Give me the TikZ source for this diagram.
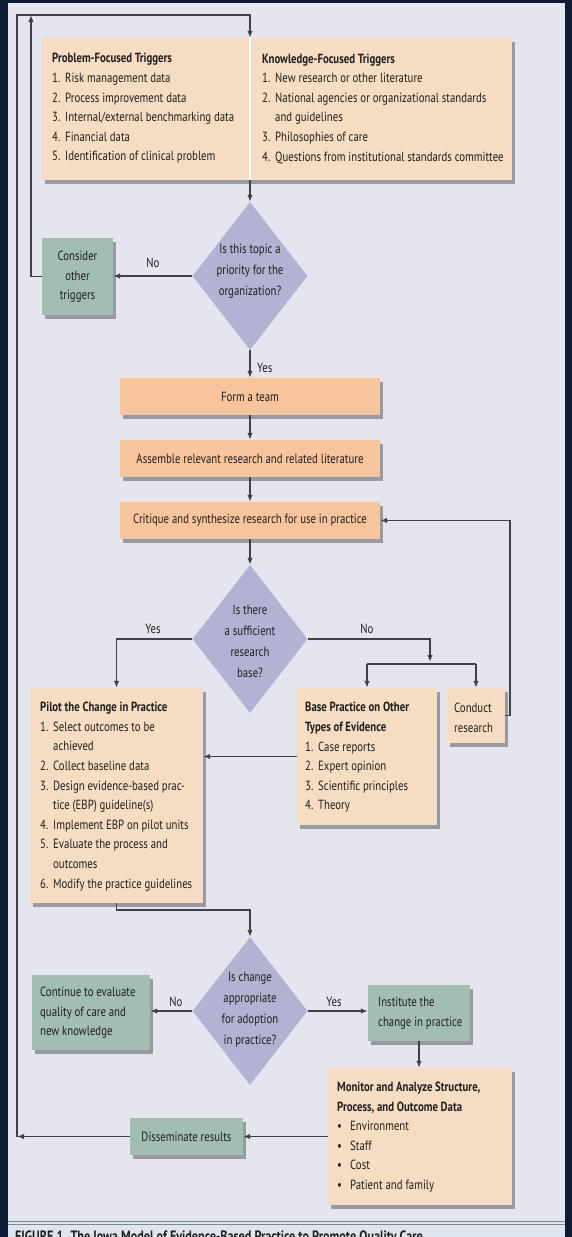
\documentclass[tikz,border=0pt]{standalone}
\usepackage{fontspec}
\setmainfont{PT Sans}[FakeStretch=0.81]
\usetikzlibrary{shapes.geometric,shadows,arrows.meta,calc}
\definecolor{navy}{HTML}{0C1C36}
\definecolor{panel}{HTML}{E5E5EF}
\definecolor{capbg}{HTML}{DFE5EE}
\definecolor{capsep}{HTML}{6E8F8C}
\definecolor{peachL}{HTML}{F6DCC2}
\definecolor{orangeB}{HTML}{F7C49C}
\definecolor{tealB}{HTML}{A2BDB2}
\definecolor{diaC}{HTML}{B2B2D2}
\definecolor{lineC}{HTML}{40404A}
\definecolor{txt}{HTML}{1F1F1F}
\newcommand\myitem[1]{\makebox[13pt][l]{#1}}
\newcommand\mycont{\hspace*{13pt}}
\begin{document}
\begin{tikzpicture}[x=1pt,y=-1pt,
  shad/.style={drop shadow={shadow xshift=2.5pt,shadow yshift=-3.5pt,fill=black,opacity=0.33}},
  boxbase/.style={rectangle,draw=none,inner sep=0pt,shad},
  pbox/.style={boxbase,fill=peachL},
  obox/.style={boxbase,fill=orangeB},
  tbox/.style={boxbase,fill=tealB},
  dia/.style={diamond,draw=none,fill=diaC,inner sep=0pt,minimum width=115pt,minimum height=148pt},
  txtl/.style={inner sep=0pt,align=left,text=txt,font=\fontsize{13.3}{19.6}\selectfont},
  txtc/.style={inner sep=0pt,align=center,text=txt,font=\fontsize{13.3}{19.6}\selectfont},
  dtxt/.style={inner sep=0pt,align=center,text=txt,font=\fontsize{13.3}{21}\selectfont},
  lbl/.style={inner sep=0pt,text=txt,font=\fontsize{13.3}{16}\selectfont},
  ln/.style={draw=lineC,line width=1.4pt},
  arr/.style={ln,-{Latex[length=7pt,width=5.5pt]}}
]
\useasboundingbox (0,0) rectangle (572,1237);
\fill[navy] (0,0) rectangle (572,1237);
\fill[panel] (8,3) rectangle (565,1237);
\fill[capbg] (8,1224) rectangle (565,1237);
\draw[capsep,line width=1pt] (8,1221) -- (565,1221);
\draw[capsep,line width=1pt] (8,1224) -- (565,1224);

% coordinates
\coordinate (lb) at (17,1136.5);
\coordinate (lt) at (17,15);
\coordinate (tp) at (250,15);
\coordinate (ct) at (31,15);
\coordinate (nb) at (430,664);
\coordinate (cr) at (510,600);
\coordinate (pj) at (250,910);

% triggers
\node[pbox,minimum width=470pt,minimum height=142pt] (trig) at (277,109) {};
\draw[white,line width=2pt] (tp |- trig.north) -- (tp |- trig.south);
\node[txtl,anchor=west] (ptrig) at (52,108.5) {\textbf{Problem-Focused Triggers}\\
\myitem{1.}Risk management data\\
\myitem{2.}Process improvement data\\
\myitem{3.}Internal/external benchmarking data\\
\myitem{4.}Financial data\\
\myitem{5.}Identification of clinical problem};
\node[txtl,anchor=west] (ktrig) at (262,108.5) {\textbf{Knowledge-Focused Triggers}\\
\myitem{1.}New research or other literature\\
\myitem{2.}National agencies or organizational standards\\
\mycont and guidelines\\
\myitem{3.}Philosophies of care\\
\myitem{4.}Questions from institutional standards committee};

% decision 1
\node[dia] (d1) at (250,276) {};
\node[dtxt] (d1t) at (250,271) {Is this topic a\\priority for the\\organization?};
\node[tbox,minimum width=71pt,minimum height=77pt] (cons) at (77.5,276.5) {};
\node[txtc] (const) at (77.5,277) {Consider\\other\\triggers};

% orange steps
\node[obox,minimum width=260pt,minimum height=37pt] (form) at (250,396.5) {};
\node[txtc] (formt) at (250,396.5) {Form a team};
\node[obox,minimum width=260pt,minimum height=37pt] (asm) at (250,458.5) {};
\node[txtc] (asmt) at (250,458.5) {Assemble relevant research and related literature};
\node[obox,minimum width=260pt,minimum height=37pt] (crit) at (250,520.5) {};
\node[txtc] (critt) at (250,520.5) {Critique and synthesize research for use in practice};

% decision 2
\node[dia] (d2) at (250,639) {};
\node[dtxt] (d2t) at (250,641) {Is there\\a sufficient\\research\\base?};

\node[pbox,minimum width=173pt,minimum height=215pt] (pilot) at (116.5,795.5) {};
\node[txtl,anchor=west] (pilott) at (40,796.5) {\textbf{Pilot the Change in Practice}\\
\myitem{1.}Select outcomes to be\\
\mycont achieved\\
\myitem{2.}Collect baseline data\\
\myitem{3.}Design evidence-based prac-\\
\mycont tice (EBP) guideline(s)\\
\myitem{4.}Implement EBP on pilot units\\
\myitem{5.}Evaluate the process and\\
\mycont outcomes\\
\myitem{6.}Modify the practice guidelines};

\node[pbox,minimum width=140pt,minimum height=137pt] (base) at (367,756.5) {};
\node[txtl,anchor=west] (baset) at (305,757.5) {\textbf{Base Practice on Other}\\
\textbf{Types of Evidence}\\
\myitem{1.}Case reports\\
\myitem{2.}Expert opinion\\
\myitem{3.}Scientific principles\\
\myitem{4.}Theory};

\node[pbox,minimum width=58pt,minimum height=55pt] (cond) at (476,715.5) {};
\node[txtl,anchor=west] (condt) at (454,718) {Conduct\\research};

% decision 3
\node[dia] (d3) at (250,1011) {};
\node[dtxt] (d3t) at (250,1010) {Is change\\appropriate\\for adoption\\in practice?};

\node[tbox,minimum width=118pt,minimum height=75pt] (cont) at (91,1012.5) {};
\node[txtl,anchor=west] (contt) at (40,1013) {Continue to evaluate\\quality of care and\\new knowledge};

\node[tbox,minimum width=102pt,minimum height=56pt] (inst) at (419,1013) {};
\node[txtl,anchor=west] (instt) at (378,1013) {Institute the\\change in practice};

\node[pbox,minimum width=184pt,minimum height=137pt] (mon) at (420,1136.5) {};
\node[txtl,anchor=west] (mont) at (337,1137) {\textbf{Monitor and Analyze Structure,}\\
\textbf{Process, and Outcome Data}\\
\myitem{•}Environment\\
\myitem{•}Staff\\
\myitem{•}Cost\\
\myitem{•}Patient and family};

\node[tbox,minimum width=113pt,minimum height=37pt] (diss) at (186.5,1136.5) {};
\node[txtc] (disst) at (186.5,1137) {Disseminate results};

% labels
\node[lbl] (l1) at (153,263) {No};
\node[lbl,anchor=west] (l2) at (257,368) {Yes};
\node[lbl] (l3) at (153,629) {Yes};
\node[lbl] (l4) at (367,629) {No};
\node[lbl] (l5) at (176,1002) {No};
\node[lbl] (l6) at (334,1002) {Yes};

% caption (cut off by page edge, as in the reference)
\node[anchor=base west,inner sep=0pt,text=txt,font=\bfseries\fontsize{15}{18}\selectfont] (cap) at (15,1241) {FIGURE 1. The Iowa Model of Evidence-Based Practice to Promote Quality Care};

% connectors
\draw[arr] (lb) -- (lt) -- (tp) -- (tp |- trig.north);
\draw[arr] (tp |- trig.south) -- (d1.north);
\draw[arr] (d1.west) -- (d1.west -| cons.east);
\draw[arr] (cons.west) -- (cons.west -| ct) -- (ct);
\draw[arr] (d1.south) -- (form.north);
\draw[arr] (form.south) -- (asm.north);
\draw[arr] (asm.south) -- (crit.north);
\draw[arr] (crit.south) -- (d2.north);
\draw[arr] (d2.west) -| (pilot.north);
\draw[arr] (d2.east) -| ($(nb)+(0,-2)$);
\draw[ln] (base.north |- nb) -- (cond.north |- nb);
\draw[arr] (base.north |- nb) -- (base.north);
\draw[arr] (cond.north |- nb) -- (cond.north);
\draw[arr] (cond.east) -- (cond.east -| cr) -- (cr |- crit.east) -- (crit.east);
\draw[arr] (base.west) -- (base.west -| pilot.east);
\draw[arr] (pilot.south) |- (pj) -- (d3.north);
\draw[arr] (d3.west) -- (d3.west -| cont.east);
\draw[arr] (d3.east) -- (d3.east -| inst.west);
\draw[arr] (inst.south) -- (inst.south |- mon.north);
\draw[arr] (mon.west) -- (mon.west -| diss.east);
\draw[arr] (diss.west) -- (lb);
\end{tikzpicture}
\end{document}
